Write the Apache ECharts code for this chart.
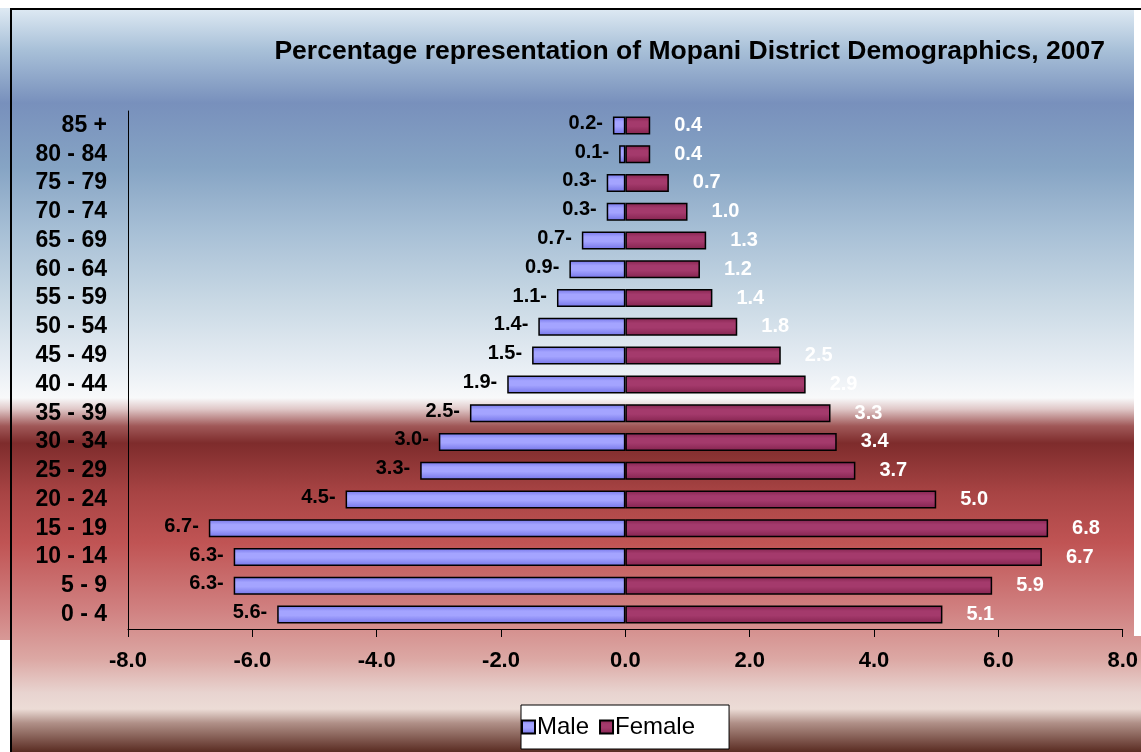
<!DOCTYPE html>
<html lang="en">
  <head>
    <meta charset="UTF-8" />
    <title>Percentage representation of Mopani District Demographics, 2007</title>
    <script src="https://cdn.jsdelivr.net/npm/echarts/dist/echarts.min.js"></script>
    <style>
      html, body { margin: 0; padding: 0; background: #fff; }
      #wrap {
        position: relative;
        width: 1141px;
        height: 752px;
        overflow: hidden;
        background: linear-gradient(to bottom,
          #dce8f2 10px, #a8c0d8 50px, #7890bc 103px, #86a4c4 167px,
          #a8c0d6 233px, #c8d8e4 300px, #e8eef4 367px, #f8f9fa 398px,
          #e0c8c8 409px, #a05858 426px, #7e2c2c 443px, #a84444 493px,
          #c05454 543px, #d08080 609px, #dca8a4 659px, #e8d4d0 693px,
          #ecdcd6 709px, #b09088 723px, #5a2c22 752px);
      }
      .blank { position: absolute; background: #fff; }
      .rule { position: absolute; background: #000; }
      #main { position: absolute; left: 0; top: 0; width: 1141px; height: 752px; }
    </style>
  </head>
  <body>
    <div id="wrap">
      <div class="blank" style="left:0;top:0;width:1141px;height:8px"></div>
      <div class="blank" style="left:0;top:640px;width:10px;height:112px"></div>
      <div class="blank" style="left:1134px;top:9px;width:7px;height:627px"></div>
      <div class="rule" style="left:10px;top:8px;width:1131px;height:2px"></div>
      <div class="rule" style="left:10px;top:8px;width:2px;height:744px"></div>
      <div id="main"></div>
    </div>
    <script>
      // age groups, bottom to top
      var ageGroups = ["0 - 4", "5 - 9", "10 - 14", "15 - 19", "20 - 24", "25 - 29",
        "30 - 34", "35 - 39", "40 - 44", "45 - 49", "50 - 54", "55 - 59",
        "60 - 64", "65 - 69", "70 - 74", "75 - 79", "80 - 84", "85 +"];
      var male = [5.6, 6.3, 6.3, 6.7, 4.5, 3.3, 3.0, 2.5, 1.9, 1.5, 1.4, 1.1,
        0.9, 0.7, 0.3, 0.3, 0.1, 0.2];
      var female = [5.1, 5.9, 6.7, 6.8, 5.0, 3.7, 3.4, 3.3, 2.9, 2.5, 1.8, 1.4,
        1.2, 1.3, 1.0, 0.7, 0.4, 0.4];
      var xTicks = [-8, -6, -4, -2, 0, 2, 4, 6, 8];

      var chart = echarts.init(document.getElementById("main"));
      var font = "Arial, 'Liberation Sans', sans-serif";

      function stripe(dark, light) {
        return new echarts.graphic.LinearGradient(0, 0, 0, 1, [
          { offset: 0, color: dark },
          { offset: 0.3, color: light },
          { offset: 0.55, color: light },
          { offset: 1, color: dark },
        ]);
      }

      var option = {
        animation: false,
        textStyle: { fontFamily: font },
        title: {
          text: "Percentage representation of Mopani District Demographics, 2007",
          right: 31,
          top: 33,
          textStyle: { fontSize: 26.5, fontWeight: "bold", color: "#000", fontFamily: font },
        },
        legend: {
          data: ["Male", "Female"],
          bottom: 3,
          left: 521,
          backgroundColor: "#fff",
          borderColor: "#000",
          borderWidth: 1,
          borderRadius: 0,
          padding: [10, 34, 10, 0],
          itemWidth: 13,
          itemHeight: 13,
          itemGap: 10,
          icon: "rect",
          textStyle: { fontSize: 24, color: "#000", fontFamily: font, padding: [0, 0, 0, -3] },
        },
        grid: { left: 128, right: 16, top: 111, bottom: 123 },
        xAxis: {
          type: "value",
          min: xTicks[0],
          max: xTicks[xTicks.length - 1],
          interval: 2,
          axisLine: { show: true, lineStyle: { color: "#000", width: 1 } },
          axisTick: { show: true, length: 8, lineStyle: { color: "#000" } },
          splitLine: { show: false },
          axisLabel: {
            margin: 21,
            fontSize: 22,
            fontWeight: "bold",
            color: "#000",
            fontFamily: font,
            formatter: function (v) { return v.toFixed(1); },
          },
        },
        yAxis: {
          type: "category",
          data: ageGroups,
          axisLine: { show: true, onZero: false, lineStyle: { color: "#000", width: 1 } },
          axisTick: { show: false },
          axisLabel: {
            interval: 0,
            margin: 21,
            fontSize: 23,
            fontWeight: "bold",
            color: "#000",
            fontFamily: font,
          },
        },
        series: [
          {
            name: "Male",
            type: "bar",
            barWidth: 18,
            barGap: "-100%",
            data: male.map(function (v) { return -v; }),
            itemStyle: {
              color: stripe("#7474e8", "#a4a4ff"),
              borderColor: "#000",
              borderWidth: 1.5,
            },
            label: {
              show: true,
              position: "left",
              distance: 10,
              offset: [0, -2],
              fontSize: 20,
              fontWeight: "bold",
              color: "#000",
              fontFamily: font,
              formatter: function (p) { return Math.abs(p.value).toFixed(1) + "-"; },
            },
          },
          {
            name: "Female",
            type: "bar",
            barWidth: 18,
            barGap: "-100%",
            data: female,
            itemStyle: {
              color: stripe("#84244f", "#a43a6c"),
              borderColor: "#000",
              borderWidth: 1.5,
            },
            label: {
              show: true,
              position: "right",
              distance: 24,
              fontSize: 20,
              fontWeight: "bold",
              color: "#fff",
              fontFamily: font,
              formatter: function (p) { return p.value.toFixed(1); },
            },
          },
        ],
      };

      chart.setOption(option);
    </script>
  </body>
</html>
